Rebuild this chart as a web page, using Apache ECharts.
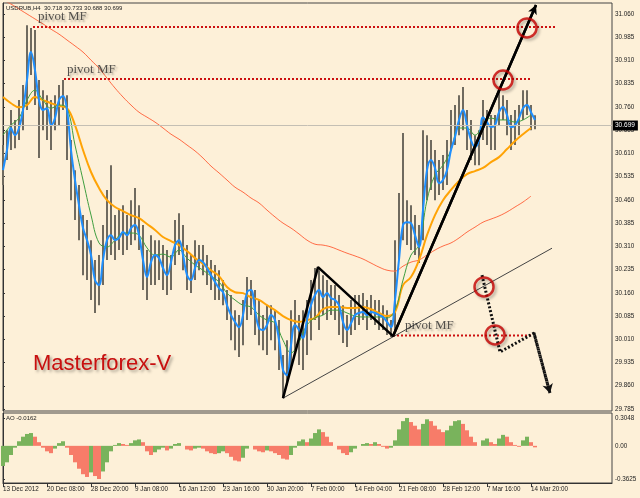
<!DOCTYPE html>
<html><head><meta charset="utf-8">
<script src="https://cdn.jsdelivr.net/npm/echarts@6/dist/echarts.min.js"></script>
<style>html,body{margin:0;padding:0;background:#FDF0D8}#c{width:640px;height:498px}</style>
</head><body><div id="c"></div>
<script>
// ---------- DATA ----------
const symbolTitle = 'USDRUB,H4  30.718 30.733 30.688 30.699';
const aoTitle = 'AO -0.0162';
const brandText = 'Masterforex-V';
const pivotText = 'pivot MF';
const lastClose = 30.699;

// bar-number of each sampled bar = position * 2 ; MA arrays below sampled every 4 bars
const dateLabels = ['13 Dec 2012','20 Dec 08:00','28 Dec 20:00','9 Jan 08:00','16 Jan 12:00','23 Jan 16:00','30 Jan 20:00','7 Feb 00:00','14 Feb 04:00','21 Feb 08:00','28 Feb 12:00','7 Mar 16:00','14 Mar 20:00'];
const dateLabelBars = [0,22,44,66,88,110,132,154,176,198,220,242,264];
const priceTicks = [29.785,29.860,29.935,30.010,30.085,30.160,30.235,30.310,30.385,30.460,30.535,30.610,30.685,30.760,30.835,30.910,30.985,31.060];
const aoTicks = [-0.3625, 0, 0.3048];
const aoTickLabels = ['-0.3625','0.00','0.3048'];

const barHigh = [30.637,30.685,30.750,30.718,30.782,30.831,31.024,31.015,31.008,30.847,
30.814,30.798,30.782,30.798,30.831,30.847,30.798,30.653,30.556,30.508,
30.411,30.395,30.330,30.266,30.282,30.379,30.492,30.572,30.411,30.427,
30.443,30.411,30.459,30.498,30.443,30.379,30.298,30.346,30.330,30.330,
30.314,30.298,30.282,30.395,30.417,30.379,30.314,30.282,30.330,30.314,
30.314,30.282,30.266,30.250,30.233,30.201,30.169,30.153,30.104,30.088,
30.137,30.211,30.201,30.169,30.137,30.088,30.120,30.120,30.104,30.072,
29.959,30.007,30.104,30.137,30.088,30.104,30.137,30.201,30.240,30.233,
30.217,30.201,30.185,30.185,30.153,30.120,30.088,30.137,30.153,30.153,
30.159,30.137,30.153,30.137,30.137,30.120,30.104,30.072,30.330,30.482,
30.676,30.459,30.443,30.411,30.379,30.685,30.669,30.653,30.621,30.589,
30.605,30.653,30.750,30.766,30.798,30.824,30.750,30.718,30.669,30.685,
30.782,30.750,30.734,30.734,30.814,30.798,30.782,30.734,30.750,30.766,
30.814,30.814,30.766,30.733];
const barLow = [30.508,30.589,30.621,30.627,30.653,30.685,30.750,30.863,30.766,30.595,
30.685,30.653,30.621,30.685,30.701,30.750,30.589,30.459,30.395,30.330,
30.217,30.201,30.137,30.095,30.120,30.185,30.266,30.282,30.266,30.298,
30.282,30.298,30.314,30.330,30.298,30.169,30.137,30.185,30.185,30.201,
30.169,30.153,30.169,30.250,30.282,30.233,30.169,30.159,30.201,30.233,
30.217,30.185,30.169,30.137,30.137,30.120,30.072,30.007,29.975,29.953,
29.991,30.072,30.088,30.024,29.991,29.975,29.959,30.007,29.975,29.911,
29.820,29.862,29.911,29.975,29.927,29.911,29.959,30.007,30.072,30.040,
30.088,30.072,30.088,30.072,30.024,29.998,29.985,30.024,30.040,30.056,
30.072,30.040,30.072,30.056,30.040,30.040,30.024,30.017,30.040,30.266,
30.330,30.314,30.298,30.282,30.256,30.330,30.459,30.492,30.459,30.476,
30.492,30.508,30.621,30.637,30.669,30.685,30.621,30.589,30.572,30.572,
30.653,30.637,30.621,30.621,30.701,30.718,30.669,30.621,30.637,30.669,
30.718,30.734,30.685,30.688];

const blueMA = [30.556,30.621,30.692,30.669,30.692,30.750,30.847,30.937,30.879,30.782,
30.750,30.756,30.701,30.724,30.782,30.795,30.750,30.621,30.524,30.443,
30.369,30.330,30.282,30.201,30.185,30.266,30.330,30.346,30.330,30.337,
30.356,30.346,30.369,30.379,30.346,30.266,30.211,30.259,30.282,30.272,
30.240,30.217,30.259,30.314,30.330,30.282,30.217,30.201,30.240,30.266,
30.259,30.240,30.217,30.195,30.175,30.162,30.120,30.088,30.066,30.049,
30.088,30.162,30.169,30.104,30.046,30.040,30.056,30.088,30.072,30.007,
29.911,29.894,29.991,30.056,30.040,30.014,30.072,30.120,30.153,30.169,
30.146,30.159,30.143,30.137,30.120,30.066,30.040,30.062,30.088,30.095,
30.098,30.088,30.098,30.095,30.088,30.082,30.066,30.049,30.137,30.266,
30.379,30.388,30.385,30.346,30.308,30.427,30.556,30.589,30.563,30.514,
30.524,30.556,30.621,30.663,30.718,30.750,30.701,30.653,30.630,30.653,
30.727,30.711,30.695,30.701,30.743,30.760,30.734,30.695,30.701,30.724,
30.756,30.766,30.743,30.718];
const greenMA = [30.669,30.701,30.724,30.782,30.814,30.782,30.756,30.766,30.756,30.637,
30.524,30.411,30.321,30.308,30.330,30.353,30.353,30.346,30.305,30.282,
30.285,30.275,30.298,30.272,30.250,30.233,30.214,30.195,30.159,30.137,
30.120,30.114,30.088,30.072,30.062,30.007,29.966,30.001,30.056,30.079,
30.088,30.104,30.104,30.095,30.085,30.082,30.082,30.082,30.079,30.104,
30.201,30.282,30.314,30.459,30.540,30.572,30.621,30.692,30.692,30.669,
30.701,30.724,30.718,30.718,30.711,30.718,30.734];
const orangeMA = [30.792,30.772,30.759,30.766,30.792,30.782,30.772,30.763,30.756,30.701,
30.621,30.550,30.498,30.459,30.437,30.424,30.411,30.401,30.382,30.363,
30.340,30.327,30.314,30.295,30.272,30.253,30.233,30.214,30.179,30.162,
30.159,30.146,30.137,30.120,30.104,30.085,30.072,30.066,30.072,30.079,
30.107,30.114,30.114,30.111,30.111,30.114,30.107,30.095,30.085,30.098,
30.185,30.211,30.266,30.346,30.411,30.459,30.492,30.521,30.543,30.553,
30.563,30.582,30.598,30.624,30.650,30.672,30.692];
const redMA = [31.105,31.092,31.076,31.060,31.044,31.028,31.011,30.995,30.976,30.957,
30.937,30.911,30.885,30.853,30.821,30.792,30.766,30.743,30.727,30.711,
30.692,30.672,30.656,30.637,30.618,30.595,30.569,30.547,30.524,30.501,
30.485,30.466,30.450,30.427,30.405,30.385,30.369,30.350,30.330,30.317,
30.314,30.308,30.298,30.288,30.279,30.269,30.256,30.243,30.233,30.230,
30.246,30.259,30.266,30.282,30.298,30.311,30.321,30.337,30.356,30.372,
30.388,30.398,30.408,30.421,30.437,30.453,30.472];

const aoValues = [-0.22,-0.18,-0.10,-0.02,0.05,0.10,0.13,0.14,0.10,0.04,
-0.02,-0.06,-0.08,-0.03,0.03,0.05,-0.02,-0.10,-0.18,-0.25,
-0.31,-0.34,-0.29,-0.33,-0.3625,-0.28,-0.18,-0.06,0.01,0.03,
0.02,0.01,0.03,0.06,0.07,0.04,-0.06,-0.10,-0.07,-0.04,
-0.02,-0.05,-0.03,0.02,0.03,0.00,-0.04,-0.05,-0.03,-0.02,
-0.03,-0.06,-0.08,-0.09,-0.08,-0.06,-0.08,-0.12,-0.16,-0.17,
-0.13,-0.03,0.00,-0.04,-0.06,-0.07,-0.05,-0.06,-0.08,-0.10,
-0.14,-0.15,-0.10,-0.02,0.05,0.07,0.04,0.08,0.14,0.18,
0.15,0.10,0.04,0.00,-0.04,-0.08,-0.10,-0.07,-0.03,0.00,
0.02,0.03,0.02,0.04,0.02,-0.01,-0.03,-0.02,0.06,0.18,
0.27,0.3048,0.26,0.22,0.18,0.24,0.29,0.27,0.22,0.18,
0.15,0.17,0.22,0.27,0.28,0.24,0.17,0.10,0.04,0.00,
0.06,0.08,0.04,0.02,0.08,0.12,0.10,0.04,0.01,-0.01,
0.06,0.10,0.04,-0.0162];

// annotations (bar number, price)
const pivotLevels = [31.018, 30.850, 30.022];
const pivotStartBar = [15, 30.5, 195];
const pivotEndBar = [276, 263.5, 265];
const pivotLabelBar = [17.5, 32, 201];
const pivotLabelPrice = [31.053, 30.879, 30.053];
const zigzagBar = [140, 157.5, 195, 266.5];
const zigzagPrice = [29.820, 30.243, 30.020, 31.089];
const trendBar = [140, 274.5];
const trendPrice = [29.820, 30.304];
const forecastBar = [239.5, 248.5, 265.5, 273.5];
const forecastPrice = [30.217, 29.969, 30.030, 29.836];
const circleBar = [262, 250, 240.5, 246];
const circlePrice = [31.015, 30.847, 30.179, 30.024];

// ---------- CHART ----------
const BG = '#FDF0D8';
const AXC = '#333';
const FONT = 'Liberation Sans';
const chart = echarts.init(document.getElementById('c'), null, {renderer: 'canvas'});

const barData = barHigh.map((h, i) => [i * 2, barLow[i], h]);
const pair = (xs, ys) => xs.map((x, i) => [x, ys[i]]);
const aoData = aoValues.map((v, i) => ({
  value: [i * 2, v],
  itemStyle: {color: (i === 0 || v >= aoValues[i - 1]) ? '#79B35C' : '#F77C69'}
}));

const series = [];
series.push({
  type: 'custom', xAxisIndex: 0, yAxisIndex: 0, z: 1,
  data: barData, encode: {x: 0, y: [1, 2]},
  renderItem: (params, api) => {
    const a = api.coord([api.value(0), api.value(1)]);
    const b = api.coord([api.value(0), api.value(2)]);
    return {type: 'line', shape: {x1: a[0], y1: a[1], x2: b[0], y2: b[1]},
      style: {stroke: '#6F6A5F', lineWidth: 2}};
  }
});
function ma(data, step, color, width, z) {
  return {type: 'line', xAxisIndex: 0, yAxisIndex: 0, z: z, symbol: 'none', smooth: 0.4,
    data: data.map((v, i) => [i * step, v]), lineStyle: {color: color, width: width}};
}
const red = ma(redMA, 4, '#FF6B45', 1, 2);
red.markLine = {
  silent: true, symbol: ['none', 'none'], animation: false,
  lineStyle: {color: '#C4BFB4', width: 1, type: 'solid'},
  label: {position: 'end', formatter: lastClose.toFixed(3), backgroundColor: '#000', color: '#fff',
    fontFamily: FONT, fontSize: 6.5, padding: [2, 3, 1, 2], distance: 1},
  data: [{yAxis: lastClose}]
};
series.push(red);
series.push(ma(orangeMA, 4, '#FFA305', 2, 3));
series.push(ma(greenMA, 4, '#3F9E3F', 1, 3));
series.push(ma(blueMA, 2, '#1E8FFF', 2, 4));

pivotLevels.forEach((p, k) => {
  series.push({type: 'line', xAxisIndex: 0, yAxisIndex: 0, z: 5, symbol: 'none',
    data: [[pivotStartBar[k], p], [pivotEndBar[k], p]],
    lineStyle: {color: '#CC1010', width: 2, type: [2, 2]}});
});
series.push({type: 'line', xAxisIndex: 0, yAxisIndex: 0, z: 5, symbol: 'none',
  data: pair(trendBar, trendPrice), lineStyle: {color: '#444', width: 1}});
const zz = pair(zigzagBar, zigzagPrice);
series.push({type: 'line', xAxisIndex: 0, yAxisIndex: 0, z: 6, symbol: 'none',
  data: zz, lineStyle: {color: '#000', width: 2.5},
  markLine: {silent: true, animation: false, symbol: ['none', 'arrow'], symbolSize: [7, 9],
    lineStyle: {color: '#000', width: 2.5, type: 'solid'}, label: {show: false},
    data: [[{coord: zz[2]}, {coord: zz[3]}]]}});
const fc = pair(forecastBar, forecastPrice);
series.push({type: 'line', xAxisIndex: 0, yAxisIndex: 0, z: 6, symbol: 'none',
  data: fc, lineStyle: {color: '#111', width: 3, type: [2, 2]},
  markLine: {silent: true, animation: false, symbol: ['none', 'arrow'], symbolSize: [8, 9],
    lineStyle: {color: '#111', width: 3, type: [2, 2]}, label: {show: false},
    data: [[{coord: fc[2]}, {coord: fc[3]}]]}});
series.push({type: 'scatter', xAxisIndex: 0, yAxisIndex: 0, z: 7, symbol: 'circle', symbolSize: 19,
  data: pair(circleBar, circlePrice),
  itemStyle: {color: 'rgba(0,0,0,0)', borderColor: '#C40000', borderWidth: 2.5,
    shadowColor: 'rgba(0,0,0,0.35)', shadowBlur: 3, shadowOffsetX: 2, shadowOffsetY: 2}});
series.push({type: 'scatter', xAxisIndex: 0, yAxisIndex: 0, z: 7, symbolSize: 0,
  data: pair(pivotLabelBar, pivotLabelPrice),
  label: {show: true, position: 'right', distance: 0, formatter: pivotText,
    fontFamily: 'Liberation Serif', fontSize: 13, color: '#2a2a2a',
    textShadowColor: 'rgba(0,0,0,0.35)', textShadowBlur: 2, textShadowOffsetX: 2, textShadowOffsetY: 2}});

series.push({type: 'bar', xAxisIndex: 1, yAxisIndex: 1, barWidth: 4, data: aoData, z: 2});

chart.setOption({
  animation: false,
  backgroundColor: BG,
  grid: [
    {left: 3, right: 28, top: 3, height: 408, show: true, borderColor: '#444', borderWidth: 1, backgroundColor: BG},
    {left: 3, right: 28, top: 413, height: 70, show: true, borderColor: '#444', borderWidth: 1, backgroundColor: BG}
  ],
  xAxis: [
    {type: 'value', gridIndex: 0, min: 0, max: 304.5, show: false, splitLine: {show: false}},
    {type: 'value', gridIndex: 1, min: 0, max: 304.5, splitLine: {show: false},
      axisLine: {show: true, onZero: false, lineStyle: {color: AXC}},
      axisTick: {show: true, length: 4, lineStyle: {color: AXC}, customValues: dateLabelBars},
      axisLabel: {customValues: dateLabelBars, align: 'left', margin: 3, fontSize: 6.3, fontFamily: FONT, color: '#222',
        formatter: v => dateLabels[dateLabelBars.indexOf(v)] || ''}}
  ],
  yAxis: [
    {type: 'value', gridIndex: 0, position: 'right', min: 29.7785, max: 31.0955, splitLine: {show: false},
      axisLine: {show: true, lineStyle: {color: AXC}},
      axisTick: {show: true, length: 2, lineStyle: {color: AXC}, customValues: priceTicks},
      axisLabel: {customValues: priceTicks, margin: 3, fontSize: 6.3, fontFamily: FONT, color: '#222',
        formatter: v => v.toFixed(3)}},
    {type: 'value', gridIndex: 1, position: 'right', min: -0.406, max: 0.359, splitLine: {show: false},
      axisLine: {show: true, lineStyle: {color: AXC}},
      axisTick: {show: true, length: 2, lineStyle: {color: AXC}, customValues: aoTicks},
      axisLabel: {customValues: aoTicks, margin: 3, fontSize: 6.3, fontFamily: FONT, color: '#222',
        formatter: v => aoTickLabels[aoTicks.indexOf(v)] || ''}}
  ],
  graphic: [
    {type: 'text', left: 6, top: 5, z: 100, style: {text: symbolTitle, fontSize: 6, fontFamily: FONT, fill: '#222'}},
    {type: 'text', left: 6, top: 415, z: 100, style: {text: aoTitle, fontSize: 6, fontFamily: FONT, fill: '#222'}},
    {type: 'text', left: 33, top: 353, z: 100, style: {text: brandText, fontSize: 22, fontFamily: FONT, fill: '#C80F0F',
      textShadowColor: 'rgba(0,0,0,0.35)', textShadowBlur: 3, textShadowOffsetX: 2, textShadowOffsetY: 2}}
  ],
  series: series
});
</script></body></html>
